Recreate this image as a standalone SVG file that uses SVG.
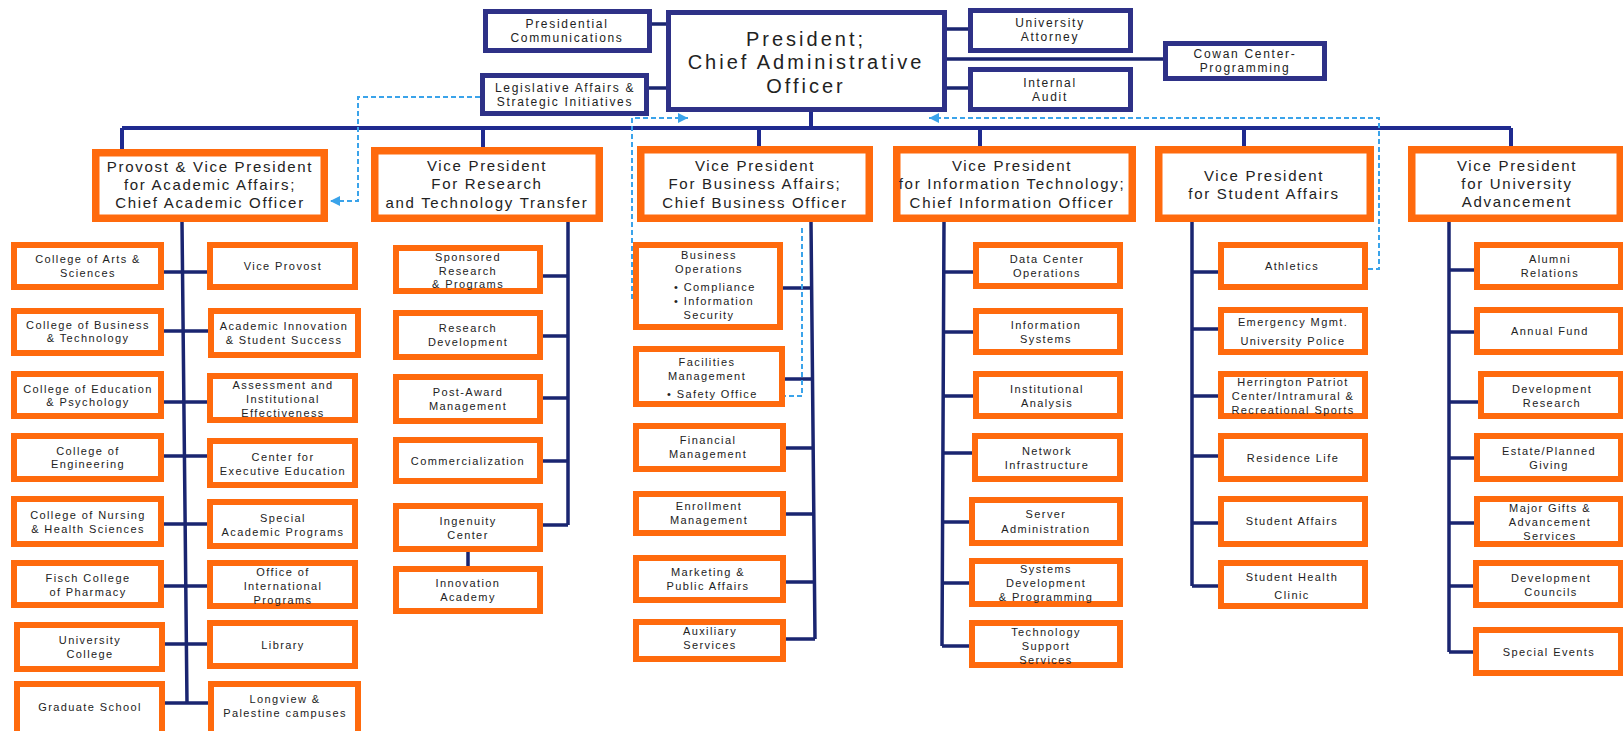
<svg xmlns="http://www.w3.org/2000/svg" width="1623" height="731" viewBox="0 0 1623 731">
<defs>
<style>
.nb{fill:#fff;stroke:#2e3187;stroke-width:5}
.vp{fill:#fff;stroke:#ff6a0d;stroke-width:7.5}
.sb{fill:#fff;stroke:#ff6a0d;stroke-width:6}
.cn{stroke:#1a2570;stroke-width:3.5;fill:none}
.bus{stroke:#1f2a8f;stroke-width:4;fill:none}
.ds{stroke:#3aa3ea;stroke-width:2;stroke-dasharray:5 3;fill:none}
text{font-family:"Liberation Sans",Arial,sans-serif;fill:#222;text-anchor:middle;dominant-baseline:central}
.ts{font-size:11px;letter-spacing:1.4px}
.tv{font-size:15px;letter-spacing:1.7px}
.tn{font-size:12px;letter-spacing:1.7px}
.tp{font-size:20px;letter-spacing:3px}
.st{text-anchor:start}
</style>
<marker id="ah" viewBox="0 0 10 10" refX="10" refY="5" markerWidth="5" markerHeight="5" orient="auto" markerUnits="strokeWidth">
<path d="M0,0 L10,5 L0,10 z" fill="#3aa3ea"/>
</marker>
</defs>
<rect width="1623" height="731" fill="#fff"/>

<g id="connectors">
<path class="cn" d="M652,24H668 M649,88H668 M945,29H970 M945,88H970 M945,59H1165"/>
<path class="bus" d="M811,112V128 M122,128H1511 M122,128V150 M483,128V148 M759,128V147 M980,128V147 M1244,128V147 M1511,128V147"/>
<path class="cn" d="M182,222L187,703 M164,272H207 M164,331H208 M164,402H207 M164,456H207 M164,524H207 M164,586H207 M165,644H207 M165,703H208"/>
<path class="cn" d="M568,222V525 M543,276H568 M543,336H568 M543,398H568 M543,461H568 M543,525H568 M468,552V566"/>
<path class="cn" d="M811,222L815,639 M783,288H812 M785,379H813 M786,448H813 M786,514H814 M786,582H814 M786,639H815"/>
<path class="cn" d="M944,222L942,646 M944,272H973 M944,332H973 M943,396H973 M943,453H972 M943,522H969 M942,583H969 M942,646H969"/>
<path class="cn" d="M1192,222V586 M1192,272H1218 M1192,329H1218 M1192,396H1218 M1192,456H1218 M1192,523H1218 M1192,586H1218"/>
<path class="cn" d="M1449,222V652 M1449,270H1474 M1449,332H1474 M1449,402H1478 M1449,458H1474 M1449,523H1474 M1449,586H1473 M1449,652H1473"/>
<path class="ds" d="M480,97H358V201H330" marker-end="url(#ah)"/>
<path class="ds" d="M678,287H632 M678,301H632V118H688" marker-end="url(#ah)"/>
<path class="ds" d="M1368,269H1379V118H929" marker-end="url(#ah)"/>
<path class="ds" d="M765,396H802V225"/>
</g>

<g id="president"><rect class="nb" x="668.5" y="12.5" width="276" height="97"/>
<text class="tp" x="806" y="38.5">President;</text><text class="tp" x="806" y="62">Chief Administrative</text><text class="tp" x="806" y="85.5">Officer</text></g>
<g id="pres-comm"><rect class="nb" x="485.5" y="11.5" width="164" height="39"/>
<text class="tn" x="567" y="24">Presidential</text><text class="tn" x="567" y="38">Communications</text></g>
<g id="legislative"><rect class="nb" x="482.5" y="75.5" width="164" height="38"/>
<text class="tn" x="565" y="88">Legislative Affairs &amp;</text><text class="tn" x="565" y="102">Strategic Initiatives</text></g>
<g id="attorney"><rect class="nb" x="970.5" y="10.5" width="160" height="40"/>
<text class="tn" x="1050" y="23">University</text><text class="tn" x="1050" y="37">Attorney</text></g>
<g id="audit"><rect class="nb" x="970.5" y="69.5" width="160" height="40"/>
<text class="tn" x="1050" y="83">Internal</text><text class="tn" x="1050" y="97">Audit</text></g>
<g id="cowan"><rect class="nb" x="1165.5" y="43.5" width="159" height="35"/>
<text class="tn" x="1245" y="54">Cowan Center-</text><text class="tn" x="1245" y="68">Programming</text></g>

<g id="vp-academic"><rect class="vp" x="95.75" y="152.75" width="228.5" height="65.5"/>
<text class="tv" x="210" y="166.5">Provost &amp; Vice President</text><text class="tv" x="210" y="184">for Academic Affairs;</text><text class="tv" x="210" y="202">Chief Academic Officer</text></g>
<g id="vp-research"><rect class="vp" x="374.75" y="150.75" width="224.5" height="67.5"/>
<text class="tv" x="487" y="165.5">Vice President</text><text class="tv" x="487" y="183.5">For Research</text><text class="tv" x="487" y="202">and Technology Transfer</text></g>
<g id="vp-business"><rect class="vp" x="640.75" y="149.75" width="228.5" height="68.5"/>
<text class="tv" x="755" y="165.5">Vice President</text><text class="tv" x="755" y="183.5">For Business Affairs;</text><text class="tv" x="755" y="202">Chief Business Officer</text></g>
<g id="vp-it"><rect class="vp" x="896.75" y="149.75" width="235.5" height="68.5"/>
<text class="tv" x="1012" y="165.5">Vice President</text><text class="tv" x="1012" y="183.5">for Information Technology;</text><text class="tv" x="1012" y="202">Chief Information Officer</text></g>
<g id="vp-student"><rect class="vp" x="1158.75" y="149.75" width="211.5" height="68.5"/>
<text class="tv" x="1264" y="175">Vice President</text><text class="tv" x="1264" y="193">for Student Affairs</text></g>
<g id="vp-advancement"><rect class="vp" x="1411.75" y="149.75" width="208.5" height="68.5"/>
<text class="tv" x="1517" y="165.5">Vice President</text><text class="tv" x="1517" y="183.5">for University</text><text class="tv" x="1517" y="201.5">Advancement</text></g>

<g id="arts"><rect class="sb" x="14" y="245" width="147" height="42"/><text class="ts" x="88" y="259">College of Arts &amp;</text><text class="ts" x="88" y="273">Sciences</text></g>
<g id="business-college"><rect class="sb" x="14" y="311" width="147" height="42"/><text class="ts" x="88" y="325">College of Business</text><text class="ts" x="88" y="338">&amp; Technology</text></g>
<g id="education"><rect class="sb" x="14" y="374" width="147" height="42"/><text class="ts" x="88" y="389">College of Education</text><text class="ts" x="88" y="402">&amp; Psychology</text></g>
<g id="engineering"><rect class="sb" x="14" y="436" width="147" height="43"/><text class="ts" x="88" y="451">College of</text><text class="ts" x="88" y="464">Engineering</text></g>
<g id="nursing"><rect class="sb" x="14" y="499" width="147" height="45"/><text class="ts" x="88" y="515">College of Nursing</text><text class="ts" x="88" y="529">&amp; Health Sciences</text></g>
<g id="pharmacy"><rect class="sb" x="14" y="563" width="147" height="42"/><text class="ts" x="88" y="578">Fisch College</text><text class="ts" x="88" y="592">of Pharmacy</text></g>
<g id="univ-college"><rect class="sb" x="17" y="625" width="145" height="44"/><text class="ts" x="90" y="640">University</text><text class="ts" x="90" y="654">College</text></g>
<g id="graduate"><rect class="sb" x="17" y="684" width="145" height="50"/><text class="ts" x="90" y="707">Graduate School</text></g>

<g id="vice-provost"><rect class="sb" x="210" y="245" width="145" height="42"/><text class="ts" x="283" y="266">Vice Provost</text></g>
<g id="innovation"><rect class="sb" x="211" y="311" width="147" height="44"/><text class="ts" x="284" y="326">Academic Innovation</text><text class="ts" x="284" y="340">&amp; Student Success</text></g>
<g id="assessment"><rect class="sb" x="210" y="376" width="145" height="44"/><text class="ts" x="283" y="385">Assessment and</text><text class="ts" x="283" y="399">Institutional</text><text class="ts" x="283" y="413">Effectiveness</text></g>
<g id="exec-ed"><rect class="sb" x="210" y="441" width="145" height="44"/><text class="ts" x="283" y="457">Center for</text><text class="ts" x="283" y="471">Executive Education</text></g>
<g id="special-programs"><rect class="sb" x="210" y="502" width="145" height="44"/><text class="ts" x="283" y="518">Special</text><text class="ts" x="283" y="532">Academic Programs</text></g>
<g id="international"><rect class="sb" x="210" y="563" width="145" height="43"/><text class="ts" x="283" y="572">Office of</text><text class="ts" x="283" y="586">International</text><text class="ts" x="283" y="600">Programs</text></g>
<g id="library"><rect class="sb" x="210" y="623" width="145" height="43"/><text class="ts" x="283" y="645">Library</text></g>
<g id="longview"><rect class="sb" x="211" y="684" width="147" height="50"/><text class="ts" x="285" y="699">Longview &amp;</text><text class="ts" x="285" y="713">Palestine campuses</text></g>

<g id="sponsored"><rect class="sb" x="396" y="248" width="144" height="43"/><text class="ts" x="468" y="257">Sponsored</text><text class="ts" x="468" y="270.5">Research</text><text class="ts" x="468" y="284">&amp; Programs</text></g>
<g id="research-dev"><rect class="sb" x="396" y="313" width="144" height="44"/><text class="ts" x="468" y="328">Research</text><text class="ts" x="468" y="342">Development</text></g>
<g id="post-award"><rect class="sb" x="396" y="377" width="144" height="44"/><text class="ts" x="468" y="392">Post-Award</text><text class="ts" x="468" y="406">Management</text></g>
<g id="commercialization"><rect class="sb" x="396" y="440" width="144" height="41"/><text class="ts" x="468" y="461">Commercialization</text></g>
<g id="ingenuity"><rect class="sb" x="396" y="506" width="144" height="43"/><text class="ts" x="468" y="521">Ingenuity</text><text class="ts" x="468" y="534.5">Center</text></g>
<g id="innovation-academy"><rect class="sb" x="396" y="569" width="144" height="42"/><text class="ts" x="468" y="583">Innovation</text><text class="ts" x="468" y="597">Academy</text></g>

<g id="business-ops"><rect class="sb" x="636" y="245" width="144" height="82"/><text class="ts" x="709" y="255">Business</text><text class="ts" x="709" y="269">Operations</text><text class="ts st" x="674" y="287">• Compliance</text><text class="ts st" x="674" y="301">• Information</text><text class="ts" x="709" y="315">Security</text></g>
<g id="facilities"><rect class="sb" x="636" y="349" width="146" height="55"/><text class="ts" x="707" y="362">Facilities</text><text class="ts" x="707" y="376">Management</text><text class="ts st" x="667" y="394">• Safety Office</text></g>
<g id="financial"><rect class="sb" x="636" y="426" width="147" height="43"/><text class="ts" x="708" y="440">Financial</text><text class="ts" x="708" y="453.5">Management</text></g>
<g id="enrollment"><rect class="sb" x="636" y="494" width="147" height="39"/><text class="ts" x="709" y="506">Enrollment</text><text class="ts" x="709" y="520">Management</text></g>
<g id="marketing"><rect class="sb" x="636" y="558" width="147" height="42"/><text class="ts" x="708" y="572">Marketing &amp;</text><text class="ts" x="708" y="586">Public Affairs</text></g>
<g id="auxiliary"><rect class="sb" x="636" y="622" width="147" height="37"/><text class="ts" x="710" y="631">Auxiliary</text><text class="ts" x="710" y="645">Services</text></g>

<g id="data-center"><rect class="sb" x="976" y="245" width="144" height="41"/><text class="ts" x="1047" y="259">Data Center</text><text class="ts" x="1047" y="273">Operations</text></g>
<g id="info-systems"><rect class="sb" x="976" y="311" width="144" height="41"/><text class="ts" x="1046" y="325">Information</text><text class="ts" x="1046" y="338.5">Systems</text></g>
<g id="inst-analysis"><rect class="sb" x="976" y="374" width="144" height="42"/><text class="ts" x="1047" y="389">Institutional</text><text class="ts" x="1047" y="402.5">Analysis</text></g>
<g id="network"><rect class="sb" x="975" y="436" width="145" height="43"/><text class="ts" x="1047" y="451">Network</text><text class="ts" x="1047" y="464.5">Infrastructure</text></g>
<g id="server"><rect class="sb" x="972" y="500" width="148" height="43"/><text class="ts" x="1046" y="514">Server</text><text class="ts" x="1046" y="529">Administration</text></g>
<g id="systems-dev"><rect class="sb" x="972" y="561" width="148" height="43"/><text class="ts" x="1046" y="569">Systems</text><text class="ts" x="1046" y="583">Development</text><text class="ts" x="1046" y="597">&amp; Programming</text></g>
<g id="tech-support"><rect class="sb" x="972" y="623" width="148" height="42"/><text class="ts" x="1046" y="632">Technology</text><text class="ts" x="1046" y="646">Support</text><text class="ts" x="1046" y="660">Services</text></g>

<g id="athletics"><rect class="sb" x="1221" y="245" width="144" height="42"/><text class="ts" x="1292" y="266">Athletics</text></g>
<g id="emergency"><rect class="sb" x="1221" y="310" width="144" height="42"/><text class="ts" x="1293" y="322">Emergency Mgmt.</text><text class="ts" x="1293" y="341">University Police</text></g>
<g id="herrington"><rect class="sb" x="1221" y="374" width="144" height="42"/><text class="ts" x="1293" y="382">Herrington Patriot</text><text class="ts" x="1293" y="396">Center/Intramural &amp;</text><text class="ts" x="1293" y="410">Recreational Sports</text></g>
<g id="residence"><rect class="sb" x="1221" y="436" width="144" height="43"/><text class="ts" x="1293" y="458">Residence Life</text></g>
<g id="student-affairs"><rect class="sb" x="1221" y="499" width="144" height="45"/><text class="ts" x="1292" y="521">Student Affairs</text></g>
<g id="health"><rect class="sb" x="1221" y="563" width="144" height="43"/><text class="ts" x="1292" y="577">Student Health</text><text class="ts" x="1292" y="595">Clinic</text></g>

<g id="alumni"><rect class="sb" x="1477" y="245" width="144" height="42"/><text class="ts" x="1550" y="259">Alumni</text><text class="ts" x="1550" y="273">Relations</text></g>
<g id="annual-fund"><rect class="sb" x="1477" y="310" width="144" height="42"/><text class="ts" x="1550" y="331">Annual Fund</text></g>
<g id="dev-research"><rect class="sb" x="1481" y="374" width="140" height="42"/><text class="ts" x="1552" y="389">Development</text><text class="ts" x="1552" y="402.5">Research</text></g>
<g id="estate"><rect class="sb" x="1477" y="436" width="144" height="43"/><text class="ts" x="1549" y="451">Estate/Planned</text><text class="ts" x="1549" y="464.5">Giving</text></g>
<g id="major-gifts"><rect class="sb" x="1477" y="499" width="144" height="45"/><text class="ts" x="1550" y="508">Major Gifts &amp;</text><text class="ts" x="1550" y="522">Advancement</text><text class="ts" x="1550" y="536">Services</text></g>
<g id="dev-councils"><rect class="sb" x="1476" y="563" width="145" height="42"/><text class="ts" x="1551" y="578">Development</text><text class="ts" x="1551" y="592">Councils</text></g>
<g id="special-events"><rect class="sb" x="1476" y="630" width="145" height="43"/><text class="ts" x="1549" y="652">Special Events</text></g>
</svg>
